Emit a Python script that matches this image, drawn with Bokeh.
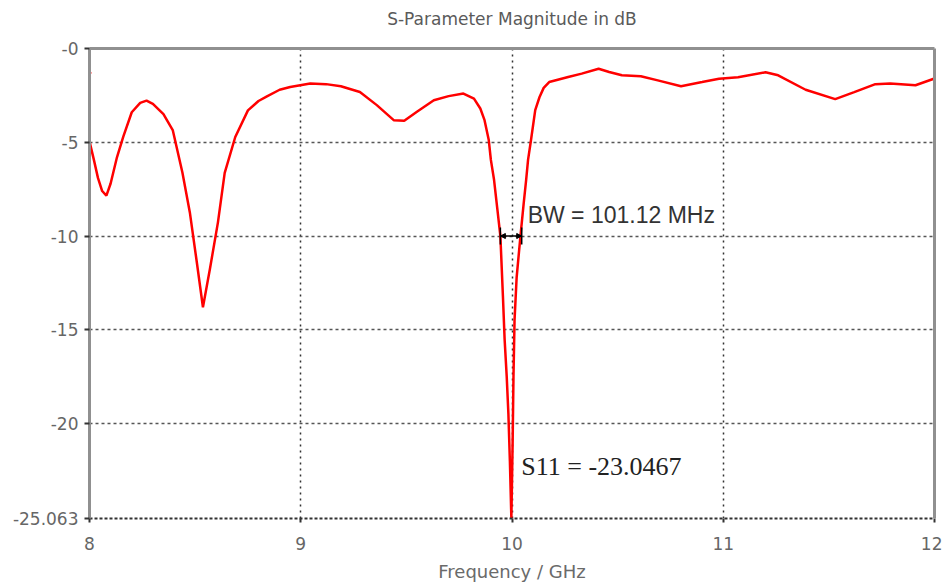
from bokeh.plotting import figure
from bokeh.models import FixedTicker, Label, Arrow, NormalHead, LinearAxis, ColumnDataSource
from bokeh.embed import file_html
from bokeh.resources import INLINE

# ---- data ----
freq_ghz = [8.00, 8.02, 8.04, 8.06, 8.08, 8.10, 8.13, 8.16, 8.20, 8.24, 8.27, 8.30, 8.35,
            8.394, 8.44, 8.475, 8.508, 8.537, 8.57, 8.608, 8.64, 8.69, 8.75, 8.80, 8.84,
            8.90, 8.95, 9.045, 9.12, 9.19, 9.28, 9.36, 9.44, 9.49, 9.55, 9.63, 9.70, 9.77,
            9.82, 9.85, 9.87, 9.89, 9.90, 9.915, 9.93, 9.945, 9.957, 9.965, 9.975, 9.983,
            9.99, 9.997, 10.003, 10.007, 10.012, 10.022, 10.04, 10.055, 10.067, 10.076,
            10.09, 10.11, 10.13, 10.15, 10.176, 10.266, 10.33, 10.41, 10.46, 10.52, 10.61,
            10.69, 10.80, 10.90, 10.98, 11.07, 11.20, 11.26, 11.39, 11.53, 11.62, 11.72,
            11.79, 11.91, 12.00]
s11_db = [-4.95, -5.9, -6.9, -7.6, -7.85, -7.2, -5.8, -4.7, -3.4, -2.9, -2.78, -2.95, -3.5,
          -4.35, -6.63, -8.74, -11.4, -13.8, -11.76, -9.27, -6.63, -4.72, -3.3, -2.8, -2.55,
          -2.2, -2.05, -1.87, -1.9, -2.01, -2.32, -3.02, -3.82, -3.85, -3.37, -2.76, -2.54, -2.40,
          -2.67, -3.2, -3.82, -4.88, -5.94, -7.0, -8.5, -10.0, -13.2, -15.5, -17.5, -19.5,
          -22.0, -25.063, -21.0, -17.5, -14.5, -12.2, -10.0, -8.3, -7.0, -5.94,
          -4.88, -3.29, -2.6, -2.1, -1.79, -1.52, -1.34, -1.08, -1.25, -1.43, -1.48,
          -1.70, -2.01, -1.79, -1.61, -1.53, -1.27, -1.43, -2.2, -2.7, -2.33, -1.9,
          -1.86, -1.96, -1.6]
stray_freq = [8.0]
stray_db = [-1.3]

x_ticks = [8, 9, 10, 11, 12]
x_grid = [9, 10, 11]
y_ticks = [0, -5, -10, -15, -20, -25.063]
y_tick_labels = {0: "-0", -5: "-5", -10: "-10", -15: "-15", -20: "-20", -25.063: "-25.063"}
y_grid = [-5, -10, -15, -20, -25.063]

bw_left = 9.945
bw_right = 10.046
bw_level = -10.0
bw_text = "BW = 101.12 MHz"
s11_text = "S11 = -23.0467"
s11_label_y = -22.31

title_text = "S-Parameter Magnitude in dB"
x_label = "Frequency / GHz"

# ---- figure ----
p = figure(width=942, height=584, x_range=(8, 12), y_range=(-25.063, 0),
           output_backend="svg", toolbar_location=None,
           min_border_left=89, min_border_right=8, min_border_top=48, min_border_bottom=63)
p.outline_line_color = None
p.background_fill_color = "white"
p.border_fill_color = "white"

# y axis
yax = p.yaxis[0]
yax.ticker = FixedTicker(ticks=y_ticks)
yax.major_label_overrides = y_tick_labels
yax.major_label_text_font = "DejaVu Sans"
yax.major_label_text_font_size = "17px"
yax.major_label_text_color = "#666666"
yax.axis_line_color = "#909090"
yax.axis_line_width = 3
yax.major_tick_out = 5
yax.major_tick_in = 0
yax.major_tick_line_color = "#333333"
yax.major_tick_line_width = 2
yax.minor_tick_line_color = None
yax.major_label_standoff = 6

# x axis
xax = p.xaxis[0]
xax.ticker = FixedTicker(ticks=x_ticks)
xax.major_label_text_font = "DejaVu Sans"
xax.major_label_text_font_size = "17px"
xax.major_label_text_color = "#666666"
xax.axis_line_color = "#333333"
xax.axis_line_width = 2
xax.axis_line_dash = "3 2"
xax.major_tick_out = 4
xax.major_tick_in = 0
xax.major_tick_line_color = "#333333"
xax.major_tick_line_width = 2
xax.minor_tick_line_color = None
xax.major_label_standoff = 14
xax.axis_label = x_label
xax.axis_label_text_font = "DejaVu Sans"
xax.axis_label_text_font_size = "18px"
xax.axis_label_text_font_style = "normal"
xax.axis_label_text_color = "#6a6a6a"
xax.axis_label_standoff = 8

# top border (carrying the chart title) and right border as bare axes
top_ax = LinearAxis(ticker=FixedTicker(ticks=[]), axis_line_color="#909090",
                    axis_line_width=3, major_tick_line_color=None,
                    minor_tick_line_color=None, axis_label=title_text,
                    axis_label_text_font="DejaVu Sans", axis_label_text_font_size="17px",
                    axis_label_text_font_style="normal", axis_label_text_color="#5a5a5a",
                    axis_label_standoff=20)
p.add_layout(top_ax, "above")
right_ax = LinearAxis(ticker=FixedTicker(ticks=[]), axis_line_color="#909090",
                      axis_line_width=3, major_tick_line_color=None,
                      minor_tick_line_color=None)
p.add_layout(right_ax, "right")

# grids
p.xgrid.ticker = FixedTicker(ticks=x_grid)
p.xgrid.grid_line_color = "#333333"
p.xgrid.grid_line_dash = "2 4"
p.xgrid.grid_line_width = 1.5
p.ygrid.ticker = FixedTicker(ticks=y_grid)
p.ygrid.grid_line_color = "#555555"
p.ygrid.grid_line_dash = "3 3"
p.ygrid.grid_line_width = 1.5

# curve
src = ColumnDataSource(dict(f=freq_ghz, db=s11_db))
p.line("f", "db", source=src, line_color="#ff0000", line_width=2.5)
p.scatter(stray_freq, stray_db, size=3, color="#ff0000")

# bandwidth marker
p.segment(x0=[bw_left], y0=[bw_level], x1=[bw_right], y1=[bw_level],
          line_color="black", line_width=1.5)
p.segment(x0=[bw_left, bw_right], y0=[bw_level - 0.45, bw_level - 0.45],
          x1=[bw_left, bw_right], y1=[bw_level + 0.45, bw_level + 0.45],
          line_color="black", line_width=1.5)
p.add_layout(Arrow(x_start=(bw_left + bw_right) / 2, y_start=bw_level,
                   x_end=bw_left, y_end=bw_level, line_alpha=0,
                   end=NormalHead(size=5, fill_color="black", line_color="black")))
p.add_layout(Arrow(x_start=(bw_left + bw_right) / 2, y_start=bw_level,
                   x_end=bw_right, y_end=bw_level, line_alpha=0,
                   end=NormalHead(size=5, fill_color="black", line_color="black")))

p.add_layout(Label(x=bw_right + 0.028, y=bw_level + 1.1, text=bw_text,
                   text_font="Liberation Sans", text_font_size="23px",
                   text_color="#333333", text_baseline="alphabetic"))
p.add_layout(Label(x=bw_right - 0.002, y=s11_label_y, text=s11_text,
                   text_font="Liberation Serif", text_font_size="26px",
                   text_color="#222222", text_baseline="alphabetic"))

open("out.html", "w").write(file_html(p, INLINE))
